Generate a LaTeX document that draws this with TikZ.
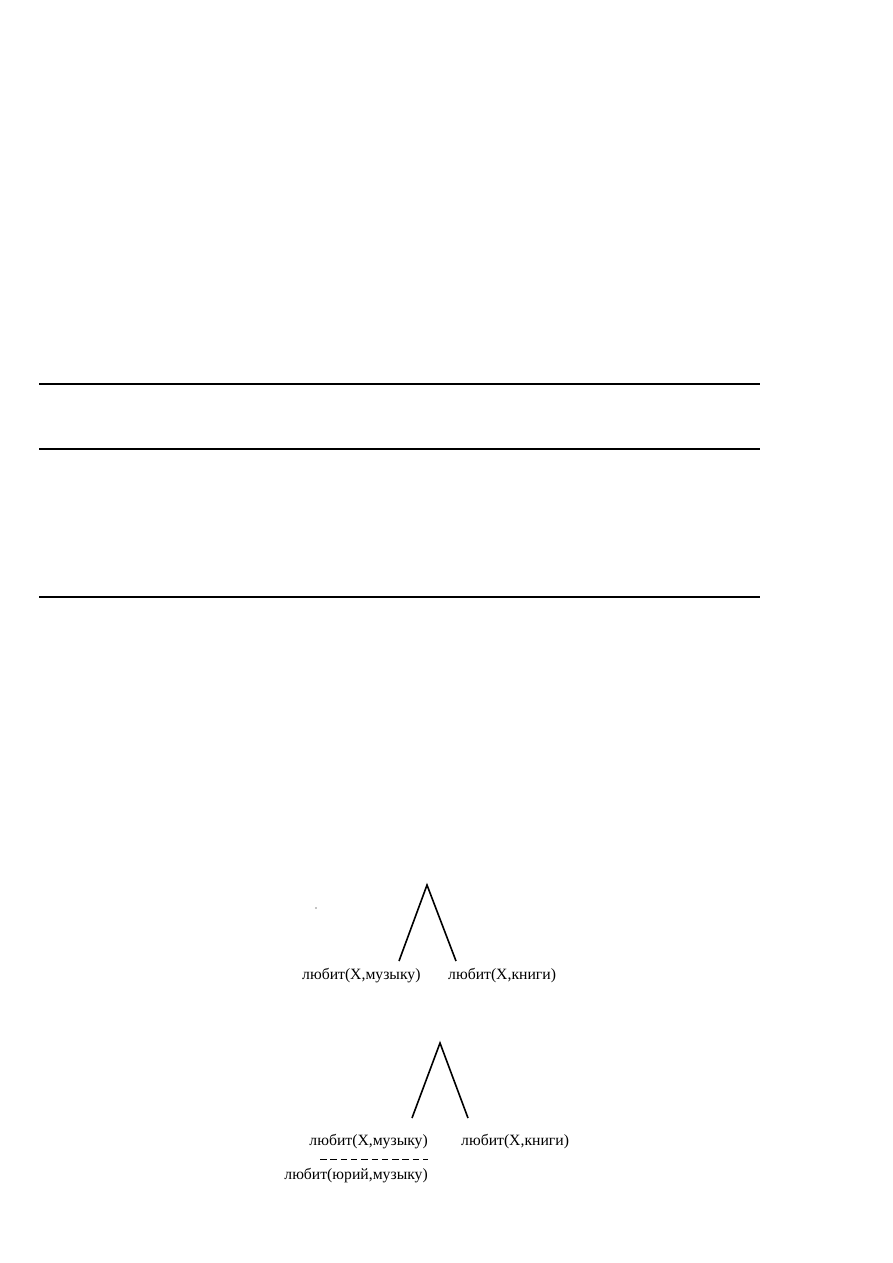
\documentclass[tikz,border=0pt]{standalone}
\usepackage{fontspec}
\setmainfont{Liberation Serif}
\begin{document}
\begin{tikzpicture}[x=1pt,y=-1pt,
  rule/.style={line width=1.3pt},
  branch/.style={line width=1.6pt},
  lbl/.style={inner sep=0pt,font=\fontsize{15.7}{18}\selectfont}]
\useasboundingbox (0,0) rectangle (893,1263);
% table rules
\coordinate (r1a) at (39,384); \coordinate (r1b) at (760,384);
\coordinate (r2a) at (39,449); \coordinate (r2b) at (760,449);
\coordinate (r3a) at (39,597); \coordinate (r3b) at (760,597);
\draw[rule] (r1a) -- (r1b);
\draw[rule] (r2a) -- (r2b);
\draw[rule] (r3a) -- (r3b);
% speck
\fill (316,908) circle (0.7);
% tree 1
\coordinate (t1) at (427,885);
\coordinate (t1l) at (399,961);
\coordinate (t1r) at (456,961);
\draw[branch] (t1l) -- (t1) -- (t1r);
\node[lbl,anchor=west] (a1) at (302,976) {любит(X,музыку)};
\node[lbl,anchor=west] (b1) at (448,976) {любит(X,книги)};
% tree 2
\coordinate (t2) at (440,1043);
\coordinate (t2l) at (412,1118);
\coordinate (t2r) at (468,1118);
\draw[branch] (t2l) -- (t2) -- (t2r);
\node[lbl,anchor=east] (a2) at (428,1142) {любит(X,музыку)};
\node[lbl,anchor=west] (b2) at (461,1142) {любит(X,книги)};
\coordinate (d1) at (320,1159);
\coordinate (d2) at (428,1159);
\draw[line width=1pt,dash pattern=on 6.5pt off 3.8pt] (d1) -- (d2);
\node[lbl,anchor=east] (c2) at (428,1176) {любит(юрий,музыку)};
\end{tikzpicture}
\end{document}
